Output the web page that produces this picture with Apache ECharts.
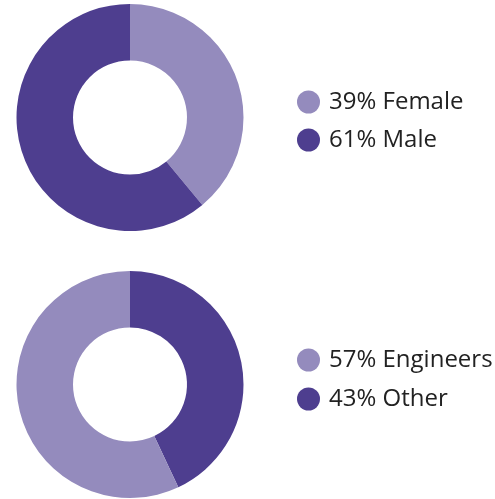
<!DOCTYPE html>
<html>
<head>
<meta charset="utf-8">
<script src="https://cdn.jsdelivr.net/npm/echarts@6/dist/echarts.min.js"></script>
<style>
  html, body { margin: 0; padding: 0; background: #fff; }
  #chart { width: 495px; height: 499px; }
</style>
</head>
<body>
<div id="chart"></div>
<script>
// gender split
const genderNames = ['Female', 'Male'];
const genderValues = [39, 61];
// role split (drawn Other first so it starts at 12 o'clock)
const roleNames = ['Other', 'Engineers'];
const roleValues = [43, 57];
const roleLegendOrder = ['Engineers', 'Other'];

const lightPurple = '#948bbd';
const darkPurple = '#4e3e8f';
const colorFor = { Female: lightPurple, Male: darkPurple, Engineers: lightPurple, Other: darkPurple };

function pieData(names, values) {
    return names.map((n, i) => ({ name: n, value: values[i], itemStyle: { color: colorFor[n] } }));
}

const lookup = {};
genderNames.forEach((n, i) => lookup[n] = genderValues[i]);
roleNames.forEach((n, i) => lookup[n] = roleValues[i]);

const legendBase = {
    orient: 'vertical',
    left: 297,
    padding: 0,
    icon: 'circle',
    itemWidth: 23,
    itemHeight: 23,
    selectedMode: false,
    formatter: name => lookup[name] + '% ' + name,
    textStyle: { fontFamily: 'Open Sans', fontSize: 24, color: '#222', padding: [0, 0, 0, 4] }
};

const pieBase = {
    type: 'pie',
    radius: [57, 113.5],
    startAngle: 90,
    clockwise: true,
    label: { show: false },
    labelLine: { show: false },
    emphasis: { disabled: true },
    itemStyle: { borderWidth: 0 }
};

const myChart = echarts.init(document.getElementById('chart'));
myChart.setOption({
    animation: false,
    legend: [
        Object.assign({}, legendBase, { top: 90, itemGap: 14, data: genderNames }),
        Object.assign({}, legendBase, { top: 348, itemGap: 15, data: roleLegendOrder })
    ],
    series: [
        Object.assign({}, pieBase, { name: 'Gender', center: [130, 117.5], data: pieData(genderNames, genderValues) }),
        Object.assign({}, pieBase, { name: 'Role', center: [130, 384.5], data: pieData(roleNames, roleValues) })
    ]
});
</script>
</body>
</html>
